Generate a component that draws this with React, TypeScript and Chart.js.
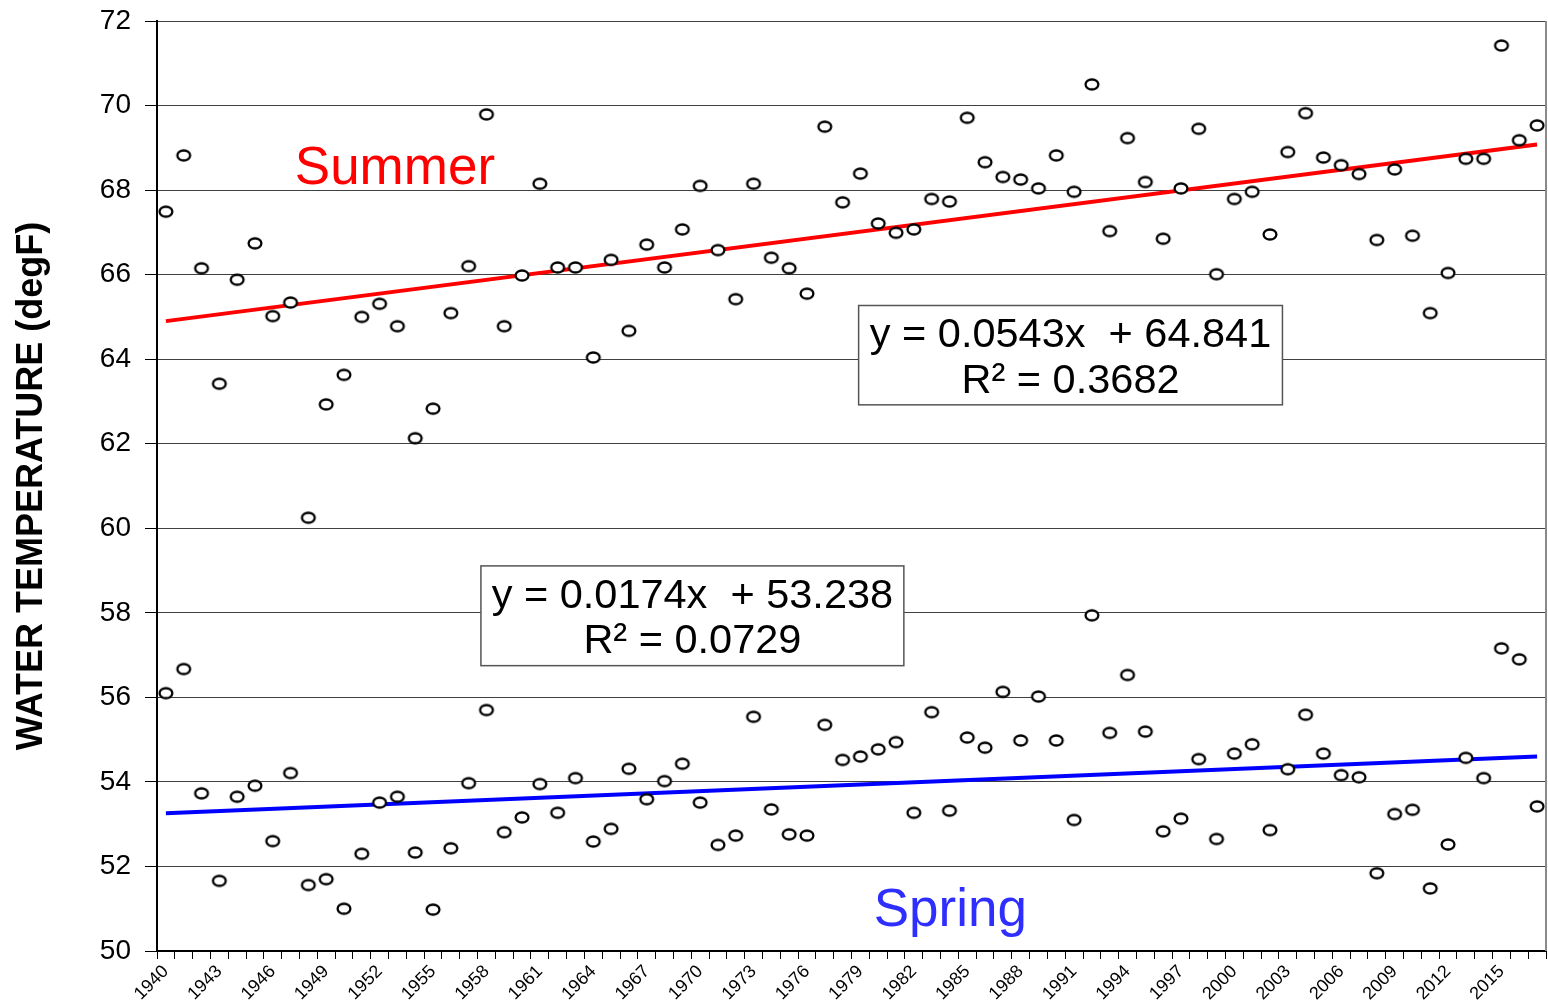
import React, { useEffect, useRef } from 'react';
import { Chart, registerables } from 'chart.js';

Chart.register(...registerables);

const FONT = '"Liberation Sans", Arial, Helvetica, sans-serif';

const years = [
  '1940','1941','1942','1943','1944','1945','1946','1947','1948','1949',
  '1950','1951','1952','1953','1954','1955','1956','1957','1958','1959',
  '1960','1961','1962','1963','1964','1965','1966','1967','1968','1969',
  '1970','1971','1972','1973','1974','1975','1976','1977','1978','1979',
  '1980','1981','1982','1983','1984','1985','1986','1987','1988','1989',
  '1990','1991','1992','1993','1994','1995','1996','1997','1998','1999',
  '2000','2001','2002','2003','2004','2005','2006','2007','2008','2009',
  '2010','2011','2012','2013','2014','2015','2016','2017',
];

const tickLabels = [
  '1940','1943','1946','1949','1952','1955','1958','1961','1964','1967',
  '1970','1973','1976','1979','1982','1985','1988','1991','1994','1997',
  '2000','2003','2006','2009','2012','2015',
];

const summerTemps = [
  67.49, 68.82, 66.15, 63.42, 65.88, 66.74, 65.02, 65.34, 60.25, 62.93,
  63.63, 65.0, 65.31, 64.78, 62.13, 62.83, 65.09, 66.2, 69.79, 64.78,
  65.98, 68.15, 66.17, 66.17, 64.04, 66.35, 64.67, 66.71, 66.17, 67.07,
  68.1, 66.58, 65.42, 68.15, 66.4, 66.15, 65.55, 69.5, 67.71, 68.39,
  67.21, 66.99, 67.07, 67.79, 67.73, 69.71, 68.66, 68.31, 68.25, 68.04,
  68.82, 67.96, 70.5, 67.03, 69.23, 68.19, 66.85, 68.04, 69.45, 66.01,
  67.79, 67.96, 66.95, 68.9, 69.82, 68.77, 68.59, 68.38, 66.82, 68.49,
  66.92, 65.09, 66.04, 68.74, 68.74, 71.42, 69.18, 69.53,
];

const springTemps = [
  56.1, 56.67, 53.73, 51.66, 53.65, 53.91, 52.6, 54.21, 51.56, 51.7,
  51.0, 52.3, 53.51, 53.65, 52.33, 50.98, 52.43, 53.97, 55.7, 52.81,
  53.16, 53.95, 53.27, 54.09, 52.59, 52.89, 54.31, 53.59, 54.02, 54.43,
  53.51, 52.51, 52.73, 55.54, 53.35, 52.76, 52.73, 55.35, 54.52, 54.6,
  54.77, 54.94, 53.27, 55.65, 53.32, 55.05, 54.81, 56.13, 54.98, 56.02,
  54.98, 53.1, 57.94, 55.16, 56.53, 55.19, 52.83, 53.13, 54.54, 52.65,
  54.67, 54.89, 52.86, 54.3, 55.59, 54.67, 54.16, 54.11, 51.84, 53.24,
  53.34, 51.48, 52.52, 54.57, 54.09, 57.16, 56.9, 53.42,
];

// Linear trend end values (first and last year), per the fitted equations
const summerTrendEnds = [64.9, 69.08];
const springTrendEnds = [53.26, 54.6];

const yTicks = [50, 52, 54, 56, 58, 60, 62, 64, 66, 68, 70, 72];

const summerEquation = ['y = 0.0543x  + 64.841', 'R\u00b2 = 0.3682'];
const springEquation = ['y = 0.0174x  + 53.238', 'R\u00b2 = 0.0729'];

function trendSeries(ends: number[]) {
  return years.map((_, i) => (i === 0 ? ends[0] : i === years.length - 1 ? ends[1] : null));
}

function makeMarker(): HTMLCanvasElement {
  const c = document.createElement('canvas');
  c.width = 18;
  c.height = 15;
  const g = c.getContext('2d')!;
  g.beginPath();
  g.ellipse(9, 7.5, 6.4, 5.0, 0, 0, Math.PI * 2);
  g.fillStyle = '#ffffff';
  g.fill();
  g.lineWidth = 2.3;
  g.strokeStyle = '#000000';
  g.stroke();
  return c;
}

const overlayPlugin = {
  id: 'overlay',
  afterDatasetsDraw(chart: any) {
    const { ctx, chartArea, scales } = chart;
    const x = scales.x;
    const y = scales.y;
    const px = (i: number) => x.getPixelForValue(i);
    const py = (v: number) => y.getPixelForValue(v);

    ctx.save();
    // right frame border
    ctx.strokeStyle = '#8a8a8a';
    ctx.lineWidth = 2;
    ctx.beginPath();
    ctx.moveTo(chartArea.right, chartArea.top);
    ctx.lineTo(chartArea.right, chartArea.bottom);
    ctx.stroke();

    const drawBox = (l: number, r: number, t: number, b: number, lines: string[], base1: number, base2: number) => {
      const x0 = px(l), x1 = px(r), y0 = py(t), y1 = py(b);
      ctx.fillStyle = '#ffffff';
      ctx.fillRect(x0, y0, x1 - x0, y1 - y0);
      ctx.strokeStyle = '#555555';
      ctx.lineWidth = 1.5;
      ctx.strokeRect(x0, y0, x1 - x0, y1 - y0);
      ctx.fillStyle = '#000000';
      ctx.font = `41.5px ${FONT}`;
      ctx.textAlign = 'center';
      ctx.textBaseline = 'alphabetic';
      const cx = (x0 + x1) / 2;
      ctx.fillText(lines[0], cx, py(base1));
      ctx.fillText(lines[1], cx, py(base2));
    };

    drawBox(38.9, 62.7, 65.27, 62.92, summerEquation, 64.3, 63.21);
    drawBox(17.69, 41.44, 59.11, 56.75, springEquation, 58.12, 57.05);

    ctx.font = `53px ${FONT}`;
    ctx.textAlign = 'center';
    ctx.textBaseline = 'alphabetic';
    ctx.fillStyle = '#ff0000';
    ctx.fillText('Summer', px(12.86), py(68.15));
    ctx.fillStyle = '#2e2eff';
    ctx.fillText('Spring', px(44.05), py(50.59));
    ctx.restore();
  },
};

export default function App() {
  const ref = useRef<HTMLCanvasElement>(null);

  useEffect(() => {
    if (!ref.current) return;
    const marker = makeMarker();
    const chart = new Chart(ref.current, {
      type: 'line',
      data: {
        labels: years,
        datasets: [
          {
            label: 'Summer',
            data: summerTemps,
            showLine: false,
            pointStyle: marker as any,
            pointRadius: 7,
            order: 0,
          },
          {
            label: 'Spring',
            data: springTemps,
            showLine: false,
            pointStyle: marker as any,
            pointRadius: 7,
            order: 0,
          },
          {
            label: 'Summer trend',
            data: trendSeries(summerTrendEnds),
            borderColor: '#ff0000',
            borderWidth: 4,
            pointRadius: 0,
            spanGaps: true,
            fill: false,
            order: 1,
          },
          {
            label: 'Spring trend',
            data: trendSeries(springTrendEnds),
            borderColor: '#0000ff',
            borderWidth: 4,
            pointRadius: 0,
            spanGaps: true,
            fill: false,
            order: 1,
          },
        ],
      },
      options: {
        responsive: false,
        animation: false,
        devicePixelRatio: 1,
        layout: { autoPadding: false, padding: { top: 21, right: 2, left: 0, bottom: 0 } },
        plugins: {
          legend: { display: false },
          tooltip: { enabled: false },
        },
        scales: {
          x: {
            type: 'category',
            offset: true,
            grid: {
              offset: true,
              drawOnChartArea: false,
              drawTicks: true,
              tickLength: 8,
              color: '#000000',
              lineWidth: 1,
            },
            border: { display: true, color: '#000000', width: 2 },
            ticks: {
              autoSkip: false,
              minRotation: 45,
              maxRotation: 45,
              padding: 2,
              color: '#000000',
              font: { family: FONT, size: 18 },
              callback: (_v: any, idx: number) => (tickLabels.includes(years[idx]) ? years[idx] : ''),
            },
            afterFit: (s: any) => {
              s.height = 52;
              s.paddingTop = 0;
              s.paddingBottom = 0;
              s.paddingLeft = 0;
              s.paddingRight = 0;
            },
          },
          y: {
            min: yTicks[0],
            max: yTicks[yTicks.length - 1],
            afterBuildTicks: (s: any) => {
              s.ticks = yTicks.map((v) => ({ value: v }));
            },
            grid: {
              color: '#404040',
              lineWidth: 1,
              drawTicks: true,
              tickLength: 12,
              tickColor: '#000000',
            },
            border: { display: true, color: '#000000', width: 2 },
            ticks: {
              padding: 14,
              color: '#000000',
              font: { family: FONT, size: 28 },
            },
            title: {
              display: true,
              text: 'WATER TEMPERATURE (degF)',
              color: '#000000',
              font: { family: FONT, size: 36, weight: 'bold' },
              padding: { top: 10, bottom: 0 },
            },
            afterFit: (s: any) => {
              s.width = 157;
              s.paddingTop = 0;
              s.paddingBottom = 0;
            },
          },
        },
      },
      plugins: [overlayPlugin],
    });
    return () => chart.destroy();
  }, []);

  return (
    <div style={{ position: 'fixed', left: 0, top: 0, width: 1548, height: 1003, background: '#ffffff' }}>
      <canvas ref={ref} width={1548} height={1003} style={{ display: 'block' }} />
    </div>
  );
}
